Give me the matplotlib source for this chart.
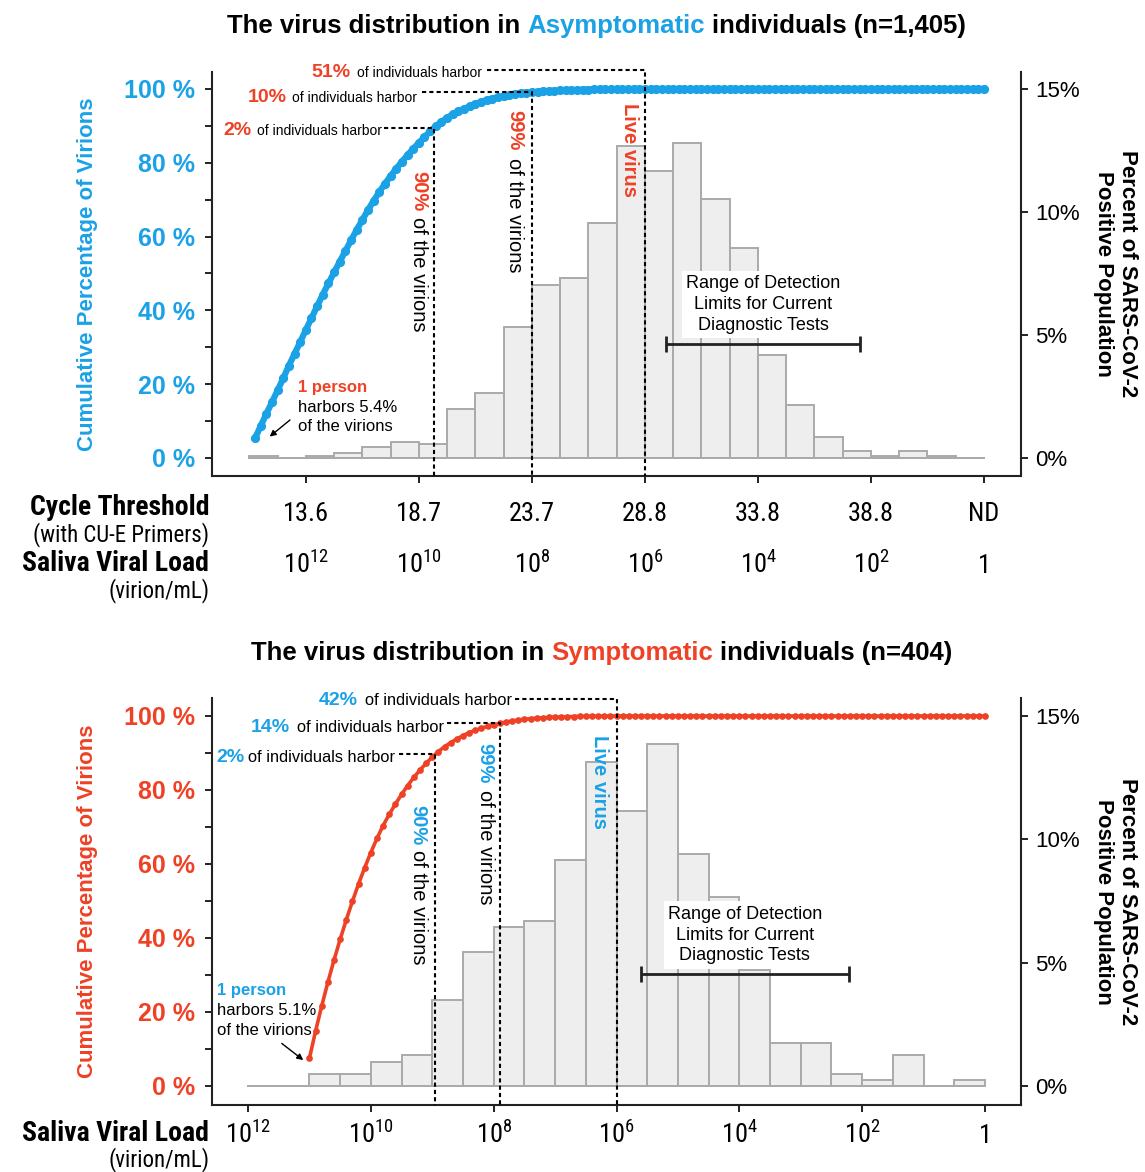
import numpy as np
import matplotlib
matplotlib.use('Agg')
import matplotlib.pyplot as plt
from matplotlib import font_manager

# ---------------- data ----------------
load_ticks = [12, 10, 8, 6, 4, 2, 0]
load_labels = [r'$\mathregular{10^{12}}$', r'$\mathregular{10^{10}}$', r'$\mathregular{10^{8}}$',
               r'$\mathregular{10^{6}}$', r'$\mathregular{10^{4}}$', r'$\mathregular{10^{2}}$', '1']
ct_labels = ['13.6', '18.7', '23.7', '28.8', '33.8', '38.8', 'ND']

bin_width = 0.5
# percent of positive population per half-log bin, highest load first
asym_first_bin = 13.0
asym_pct = [0.07, 0.0, 0.07, 0.21, 0.43, 0.64, 0.57, 1.99, 2.63, 5.34,
            7.05, 7.33, 9.54, 12.67, 11.67, 12.81, 10.53, 8.54, 4.20, 2.14,
            0.85, 0.28, 0.07, 0.28, 0.07, 0.0]
sym_first_bin = 12.0
sym_pct = [0.0, 0.0, 0.50, 0.50, 0.99, 1.24, 3.47, 5.45, 6.44, 6.68,
           9.16, 13.12, 11.14, 13.86, 9.41, 7.67, 4.70, 1.73, 1.73, 0.50,
           0.25, 1.24, 0.0, 0.25]

# cumulative % of virions, one point every 0.1 log, from 12.9 down to 0
asym_cum = [5.3, 8.6, 11.9, 15.1, 18.3, 21.6, 25.0, 28.2, 31.4, 34.7,
            37.9, 41.1, 44.3, 47.3, 50.3, 53.2, 56.1, 59.0, 61.8, 64.5,
            67.2, 69.7, 72.1, 74.3, 76.4, 78.4, 80.3, 82.1, 83.8, 85.4,
            87.0, 88.5, 89.9, 91.1, 92.2, 93.1, 93.9, 94.6, 95.3, 95.9,
            96.5, 97.0, 97.4, 97.8, 98.1, 98.4, 98.6, 98.8, 99.0, 99.1,
            99.25, 99.35, 99.45, 99.5, 99.6, 99.65, 99.7, 99.75, 99.8, 99.85,
            99.9, 99.9, 99.9, 99.95, 99.95, 99.95, 100, 100, 100, 100,
            100, 100, 100, 100, 100, 100, 100, 100, 100, 100,
            100, 100, 100, 100, 100, 100, 100, 100, 100, 100,
            100, 100, 100, 100, 100, 100, 100, 100, 100, 100,
            100, 100, 100, 100, 100, 100, 100, 100, 100, 100,
            100, 100, 100, 100, 100, 100, 100, 100, 100, 100,
            100, 100, 100, 100, 100, 100, 100, 100, 100, 100]
asym_cum_x = np.linspace(12.9, 0.0, len(asym_cum))

# from 11.0 down to 0
sym_cum = [7.5,
           14.8, 21.6, 28.0, 34.0, 39.6, 44.9, 49.9, 54.6, 59.0, 63.1,
           66.9, 70.4, 73.4, 76.2, 78.8, 81.2, 83.4, 85.4, 87.2, 88.9,
           90.4, 91.7, 92.8, 93.8, 94.7, 95.5, 96.1, 96.7, 97.2, 97.6,
           98.0, 98.35, 98.65, 98.9, 99.1, 99.25, 99.4, 99.5, 99.6, 99.7,
           99.75, 99.8, 99.85, 99.9, 99.92, 99.94, 99.96, 99.98, 99.99, 100,
           100, 100, 100, 100, 100, 100, 100, 100, 100, 100,
           100, 100, 100, 100, 100, 100, 100, 100, 100, 100,
           100, 100, 100, 100, 100, 100, 100, 100, 100, 100,
           100, 100, 100, 100, 100, 100, 100, 100, 100, 100,
           100, 100, 100, 100, 100, 100, 100, 100, 100, 100,
           100, 100, 100, 100, 100, 100, 100, 100, 100, 100]
sym_cum_x = np.linspace(11.0, 0.0, len(sym_cum))

BLUE = '#1BA1E6'
RED = '#EE4125'

# ---------------- fonts ----------------
names = {f.name for f in font_manager.fontManager.ttflist}
narrow = next((n for n in ['Liberation Sans Narrow', 'Arial Narrow', 'Roboto Condensed']
               if n in names), None)
nscale = 1.0
if narrow is None:
    narrow = 'Liberation Sans'
    nscale = 0.82
plt.rcParams['font.family'] = ['Liberation Sans', 'DejaVu Sans']

W, H = 1145, 1172
fig = plt.figure(figsize=(W / 100, H / 100), dpi=100)


def panel(rect, xlim, ylim, first_bin, pct, cx, cy, color, lw, ms):
    ax = fig.add_axes(rect)
    ax2 = ax.twinx()
    ax.set_zorder(ax2.get_zorder() + 1)
    ax.patch.set_visible(False)

    centers = first_bin - bin_width * (np.arange(len(pct)) + 0.5)
    ax2.bar(centers, pct, width=bin_width, color='#EEEEEE', edgecolor='#AAAAAA', linewidth=1.4)
    ax2.plot([first_bin, 0], [0, 0], color='#AAAAAA', lw=1.4)
    ax.plot(cx, cy, color=color, lw=lw, marker='o', ms=ms, zorder=5, clip_on=False)

    ax.set_xlim(xlim)
    ax.set_ylim(ylim)
    ax2.set_ylim(ylim[0] * 0.15, ylim[1] * 0.15)

    for s in ['top', 'right']:
        ax.spines[s].set_visible(False)
    for s in ['top', 'left', 'bottom']:
        ax2.spines[s].set_visible(False)
    for s in [ax.spines['left'], ax.spines['bottom'], ax2.spines['right']]:
        s.set_linewidth(1.5)
        s.set_color('#222222')

    ax.set_yticks([0, 20, 40, 60, 80, 100])
    ax.set_yticklabels(['0 %', '20 %', '40 %', '60 %', '80 %', '100 %'])
    ax.set_yticks([10, 30, 50, 70, 90], minor=True)
    ax.tick_params(axis='y', which='both', length=5, width=1.4, pad=7,
                   labelsize=18, labelcolor=color, color='#222222')
    for lab in ax.get_yticklabels():
        lab.set_fontweight('bold')
    ax.set_xticks(load_ticks)
    ax.set_xticklabels([])
    ax.tick_params(axis='x', length=5, width=1.4, color='#222222')

    ax2.set_yticks([0, 5, 10, 15])
    ax2.set_yticklabels(['0%', '5%', '10%', '15%'])
    ax2.tick_params(axis='y', length=5, width=1.4, pad=5, labelsize=16, color='#222222')

    ax.text(-0.1545, 0.5, 'Cumulative Percentage of Virions', transform=ax.transAxes,
            rotation=90, ha='center', va='center', fontsize=16, fontweight='bold', color=color)
    ax.text(1.117, 0.5, 'Percent of SARS-CoV-2\nPositive Population', transform=ax.transAxes,
            rotation=-90, ha='center', va='center', fontsize=16, fontweight='bold',
            multialignment='center', linespacing=1.15)
    return ax


def pair(ax, xb, xs, y, big, accent, small_size):
    ax.text(xb, y, big, color=accent, fontsize=14, fontweight='bold', ha='left', va='baseline')
    ax.text(xs, y, 'of individuals harbor', fontsize=small_size, ha='left', va='baseline')


def vpair(ax, x, yb, ys, big, accent):
    ax.text(x, yb, big, color=accent, fontsize=14.5, fontweight='bold', rotation=-90,
            ha='center', va='top')
    ax.text(x, ys, 'of the virions', fontsize=14.5, rotation=-90, ha='center', va='top')


def dashed(ax, x0, xv, yh, ybot):
    ax.plot([x0, xv, xv], [yh, yh, ybot], color='k', lw=1.5, ls=(0, (2.0, 1.5)),
            clip_on=False, zorder=6)


def person(ax, x, ys, pct_text, accent, arrow_from, arrow_to):
    ax.text(x, ys[0], '1 person', color=accent, fontsize=12, fontweight='bold', va='baseline')
    ax.text(x, ys[1], 'harbors ' + pct_text, fontsize=12, va='baseline')
    ax.text(x, ys[2], 'of the virions', fontsize=12, va='baseline')
    ax.annotate('', xy=arrow_to, xytext=arrow_from,
                arrowprops=dict(arrowstyle='-|>', color='k', lw=1.0, mutation_scale=9,
                                shrinkA=0, shrinkB=0))


def detection(ax, xc, yt, x0, x1, yb):
    ax.text(xc, yt, 'Range of Detection\nLimits for Current\nDiagnostic Tests', fontsize=13,
            ha='center', va='center', multialignment='center', linespacing=1.3, zorder=7,
            bbox=dict(facecolor='white', edgecolor='none', pad=3))
    ax.errorbar([(x0 + x1) / 2], [yb], xerr=[(x0 - x1) / 2], color='#222222', lw=2,
                capsize=6, capthick=2, zorder=8)


def title_line(yc, xc, before, word, after, color):
    r = fig.canvas.get_renderer()
    kw = dict(fontsize=18.5, fontweight='bold', va='center')

    def width(s):
        t = fig.text(0, 0, s, **kw)
        w = t.get_window_extent(r).width
        t.remove()
        return w
    sp = width('x x') - width('xx')
    parts = [(before, 'black'), (word, color), (after, 'black')]
    widths = [width(p) for p, _ in parts]
    x = xc - (sum(widths) + 2 * sp) / 2
    for (p, c), w in zip(parts, widths):
        fig.text(x / W, yc, p, color=c, ha='left', **kw)
        x += w + sp


# ---------------- top panel: asymptomatic ----------------
top_ylim = (-4.88, 104.6)
ax = panel([212 / W, 1 - 476 / H, 809 / W, 404 / H], (13.66, -0.655), top_ylim,
           asym_first_bin, asym_pct, asym_cum_x, asym_cum, BLUE, 4.5, 5.6)

dashed(ax, 8.80, 6.0, 105.1, top_ylim[0])
dashed(ax, 9.95, 8.0, 99.1, top_ylim[0])
dashed(ax, 10.62, 9.73, 89.5, top_ylim[0])
pair(ax, 11.90, 11.10, 103.3, '51%', RED, 10)
pair(ax, 13.02, 12.25, 96.6, '10%', RED, 10)
pair(ax, 13.46, 12.86, 87.5, '2%', RED, 10)
vpair(ax, 10.01, 77.8, 65.2, '90%', RED)
vpair(ax, 8.30, 94.3, 81.3, '99%', RED)
ax.text(6.27, 96.2, 'Live virus', color=RED, fontsize=14.5, fontweight='bold', rotation=-90,
        ha='center', va='top')
person(ax, 12.14, [18.0, 12.5, 7.4], '5.4%', RED, (12.28, 10.3), (12.64, 5.8))
detection(ax, 3.91, 41.6, 5.63, 2.19, 30.9)

for x, ct, ld in zip(load_ticks, ct_labels, load_labels):
    ax.annotate(ct, xy=(x, 0), xycoords=ax.get_xaxis_transform(), xytext=(0, -32.4),
                textcoords='offset points', ha='center', va='baseline',
                fontsize=19 * nscale, family=narrow)
    ax.annotate(ld, xy=(x, 0), xycoords=ax.get_xaxis_transform(), xytext=(0, -69.8),
                textcoords='offset points', ha='center', va='baseline',
                fontsize=19 * nscale, family=narrow)

fig.text(209 / W, 1 - 515 / H, 'Cycle Threshold', ha='right', va='baseline',
         fontsize=20 * nscale, fontweight='bold', family=narrow)
fig.text(209 / W, 1 - 541 / H, '(with CU-E Primers)', ha='right', va='baseline',
         fontsize=16.5 * nscale, family=narrow)
fig.text(209 / W, 1 - 571 / H, 'Saliva Viral Load', ha='right', va='baseline',
         fontsize=20 * nscale, fontweight='bold', family=narrow)
fig.text(209 / W, 1 - 597 / H, '(virion/mL)', ha='right', va='baseline',
         fontsize=16.5 * nscale, family=narrow)

# ---------------- bottom panel: symptomatic ----------------
bot_ylim = (-5.14, 104.86)
bx = panel([212 / W, 1 - 1105 / H, 809 / W, 407 / H], (12.586, -0.586), bot_ylim,
           sym_first_bin, sym_pct, sym_cum_x, sym_cum, RED, 2.6, 3.8)

dashed(bx, 7.65, 6.0, 104.6, bot_ylim[0])
dashed(bx, 8.76, 7.9, 98.0, bot_ylim[0])
dashed(bx, 9.54, 8.95, 89.8, bot_ylim[0])
pair(bx, 10.855, 10.09, 103.0, '42%', BLUE, 11.8)
pair(bx, 11.96, 11.21, 95.8, '14%', BLUE, 11.8)
pair(bx, 12.51, 12.0, 87.6, '2%', BLUE, 11.8)
vpair(bx, 9.23, 75.9, 63.8, '90%', BLUE)
vpair(bx, 8.14, 92.6, 80.0, '99%', BLUE)
bx.text(6.28, 94.9, 'Live virus', color=BLUE, fontsize=14.5, fontweight='bold', rotation=-90,
        ha='center', va='top')
person(bx, 12.51, [24.6, 19.2, 13.8], '5.1%', BLUE, (11.45, 11.5), (11.10, 7.0))
detection(bx, 3.91, 40.8, 5.60, 2.21, 30.3)

for x, ld in zip(load_ticks, load_labels):
    bx.annotate(ld, xy=(x, 0), xycoords=bx.get_xaxis_transform(), xytext=(0, -27.4),
                textcoords='offset points', ha='center', va='baseline',
                fontsize=19 * nscale, family=narrow)
fig.text(209 / W, 1 - 1141 / H, 'Saliva Viral Load', ha='right', va='baseline',
         fontsize=20 * nscale, fontweight='bold', family=narrow)
fig.text(209 / W, 1 - 1166 / H, '(virion/mL)', ha='right', va='baseline',
         fontsize=16.5 * nscale, family=narrow)

# ---------------- titles ----------------
title_line(1 - 26 / H, 596, 'The virus distribution in', 'Asymptomatic',
           'individuals (n=1,405)', BLUE)
title_line(1 - 653 / H, 602, 'The virus distribution in', 'Symptomatic',
           'individuals (n=404)', RED)

fig.savefig('out.png', dpi=100)
